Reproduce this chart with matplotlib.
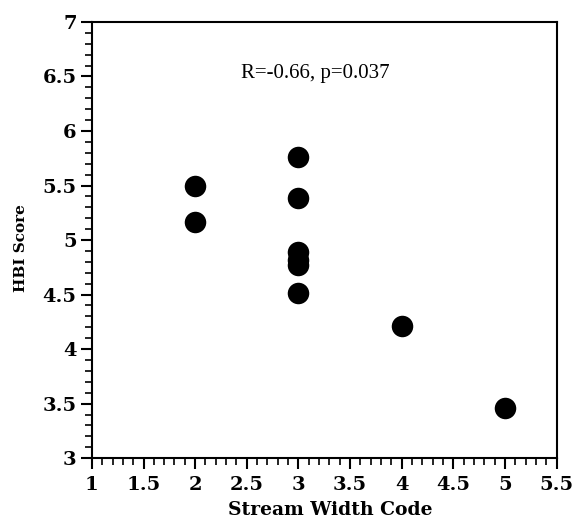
import numpy as np
import matplotlib.pyplot as plt
from matplotlib.ticker import MultipleLocator, FormatStrFormatter

# stream width code vs HBI score
width_code = [2, 2, 3, 3, 3, 3, 3, 3, 4, 5]
hbi_score = [5.5, 5.17, 5.76, 5.39, 4.89, 4.82, 4.77, 4.51, 4.21, 3.46]
xticks = [1, 1.5, 2, 2.5, 3, 3.5, 4, 4.5, 5, 5.5]
yticks = [3, 3.5, 4, 4.5, 5, 5.5, 6, 6.5, 7]
stat_text = 'R=-0.66, p=0.037'

fig = plt.figure(figsize=(5.74, 5.23), dpi=100)
ax = fig.add_axes([0.160, 0.124, 0.810, 0.834])

ax.scatter(width_code, hbi_score, s=240, c='black', marker='o', linewidths=0, zorder=3)

ax.set_xlim(1, 5.5)
ax.set_ylim(3, 7)
ax.set_xticks(xticks)
ax.set_yticks(yticks)
ax.xaxis.set_minor_locator(MultipleLocator(0.1))
ax.yaxis.set_minor_locator(MultipleLocator(0.1))
ax.xaxis.set_major_formatter(FormatStrFormatter('%g'))
ax.yaxis.set_major_formatter(FormatStrFormatter('%g'))

ax.tick_params(which='major', direction='out', length=8, width=1.5, color='black')
ax.tick_params(axis='x', which='major', pad=5)
ax.tick_params(axis='y', which='major', pad=3)
ax.tick_params(which='minor', direction='out', length=5, width=1.2, color='black')
for lab in ax.get_xticklabels() + ax.get_yticklabels():
    lab.set_fontfamily('DejaVu Serif')
    lab.set_fontweight('bold')
    lab.set_fontsize(14)
for sp in ax.spines.values():
    sp.set_linewidth(1.5)

ax.set_xlabel('Stream Width Code', fontfamily='DejaVu Serif', fontweight='bold', fontsize=13.5)
ax.set_ylabel('HBI Score', fontfamily='DejaVu Serif', fontweight='bold', fontsize=11)
ax.xaxis.set_label_coords(0.512, -0.098)
ax.yaxis.set_label_coords(-0.138, 0.482)

ax.text(3.16, 6.53, stat_text, ha='center', va='center', fontfamily='Liberation Serif', fontsize=15)

fig.savefig('out.png', dpi=100)
